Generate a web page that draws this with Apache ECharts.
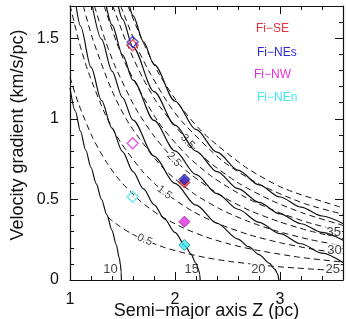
<!DOCTYPE html>
<html>
<head>
<meta charset="utf-8">
<script src="https://cdn.jsdelivr.net/npm/echarts@6/dist/echarts.min.js"></script>
<style>
html, body { margin: 0; padding: 0; background: #fff; }
#chart { width: 346px; height: 319px; }
</style>
</head>
<body>
<div id="chart"></div>
<script>
// solid curves, labelled 10 ... 35  [Z (pc), gradient (km/s/pc)]
const solid10 = [[1.0,1.192],[1.05,1.050],[1.1,0.922],[1.15,0.805],[1.2,0.698],[1.25,0.597],[1.3,0.501],[1.35,0.406],[1.4,0.308],[1.44,0.220],[1.47,0.135],[1.48,0.095],[1.487,0.051],[1.49,0]];
const solid15 = [[1.058,1.7],[1.1,1.576],[1.2,1.321],[1.3,1.114],[1.4,0.942],[1.5,0.797],[1.6,0.673],[1.7,0.565],[1.8,0.468],[1.9,0.379],[2.0,0.295],[2.1,0.209],[2.15,0.162],[2.2,0.104],[2.225,0.063],[2.235,0.036],[2.24,0]];
const solid20 = [[1.213,1.7],[1.3,1.494],[1.4,1.296],[1.5,1.132],[1.6,0.992],[1.8,0.769],[2.0,0.599],[2.2,0.464],[2.4,0.352],[2.6,0.254],[2.7,0.207],[2.8,0.158],[2.9,0.103],[2.95,0.067],[2.975,0.041],[2.99,0]];
const solid25 = [[1.345,1.7],[1.4,1.583],[1.5,1.397],[1.6,1.240],[1.8,0.990],[2.0,0.801],[2.2,0.654],[2.4,0.536],[2.6,0.439],[2.8,0.358],[3.0,0.288],[3.2,0.225],[3.4,0.167],[3.6,0.108]];
const solid30 = [[1.459,1.7],[1.5,1.619],[1.6,1.445],[1.8,1.169],[2.0,0.961],[2.2,0.800],[2.4,0.672],[2.6,0.567],[2.8,0.481],[3.0,0.410],[3.2,0.349],[3.4,0.295],[3.6,0.247]];
const solid35 = [[1.567,1.7],[1.6,1.640],[1.7,1.478],[1.8,1.338],[2.0,1.110],[2.2,0.934],[2.4,0.793],[2.6,0.682],[2.8,0.590],[3.0,0.515],[3.2,0.452],[3.4,0.397],[3.6,0.350]];

// dashed curves, 0.5 ... 4.5
const dash05 = [[1.359,0.389],[1.478,0.331],[1.585,0.288],[1.693,0.253],[1.903,0.201],[2.113,0.164],[2.319,0.136],[2.525,0.115],[2.731,0.099],[2.936,0.085],[3.139,0.075],[3.343,0.066],[3.6,0.058]];
const dash10 = [[1.0,1.258],[1.080,1.096],[1.218,0.880],[1.35,0.728],[1.478,0.615],[1.665,0.492],[1.843,0.406],[2.076,0.324],[2.303,0.265],[2.525,0.222],[2.746,0.189],[3.176,0.142],[3.6,0.111]];
const dash15 = [[1.0,1.705],[1.088,1.474],[1.171,1.297],[1.330,1.036],[1.482,0.855],[1.696,0.670],[1.900,0.544],[2.161,0.429],[2.409,0.350],[2.710,0.280],[3.003,0.231],[3.289,0.194],[3.6,0.163]];
const dash20 = [[1.127,1.70],[1.218,1.491],[1.398,1.177],[1.567,0.965],[1.882,0.698],[2.173,0.539],[2.448,0.434],[2.712,0.360],[2.967,0.304],[3.278,0.252],[3.6,0.211]];
const dash25 = [[1.233,1.70],[1.335,1.489],[1.433,1.321],[1.621,1.070],[1.797,0.896],[1.963,0.768],[2.125,0.668],[2.431,0.526],[2.720,0.429],[2.995,0.361],[3.262,0.308],[3.6,0.256]];
const dash30 = [[1.325,1.70],[1.443,1.476],[1.546,1.318],[1.838,0.983],[2.107,0.777],[2.359,0.638],[2.677,0.511],[2.978,0.422],[3.267,0.357],[3.6,0.300]];
const dash35 = [[1.408,1.70],[1.542,1.466],[1.695,1.251],[1.858,1.073],[2.242,0.779],[2.591,0.607],[2.920,0.493],[3.228,0.413],[3.6,0.339]];
const dash40 = [[1.483,1.70],[1.641,1.441],[1.751,1.297],[1.926,1.105],[2.069,0.981],[2.458,0.736],[2.816,0.590],[3.234,0.474],[3.6,0.408]];
const dash45 = [[1.552,1.70],[1.680,1.499],[1.848,1.278],[2.070,1.061],[2.28,0.906],[2.673,0.700],[3.038,0.568],[3.547,0.458],[3.6,0.449]];

// curve labels
const solidLabels = [['10',1.386,0.066],['15',2.159,0.066],['20',2.794,0.066],['25',3.502,0.066],['30',3.518,0.186],['35',3.512,0.293]];
const dashLabels = [['0.5',1.711,0.249],['1.5',1.90,0.544],['2.5',1.99,0.748],['3.5',2.12,0.86]];

// filaments: [open marker, filled marker]
const fiNames = ['Fi\u2212SE','Fi\u2212NEs','Fi\u2212NW','Fi\u2212NEn'];
const fiSE  = [[1.597,1.457],[2.09,0.605]];
const fiNEs = [[1.597,1.477],[2.09,0.624]];
const fiNW  = [[1.597,0.849],[2.09,0.362]];
const fiNEn = [[1.597,0.516],[2.09,0.217]];

const FONT = 'Liberation Sans, Arial, sans-serif';
const INK = '#111';
const fiColors = ['#e8303a','#2a2ad8','#e030e0','#40e8f0'];
const fiEdges = ['#a01818','#10106a','#901090','#108890'];
const dashAngles = [-22,-38,-46,-50];
const legendTops = [23,47,69,92];
const legendLefts = [256,257,254,257];

const chart = echarts.init(document.getElementById('chart'));

function axisX(pos, interval, len, main) {
  return {
    type: 'value', min: 1, max: 3.6, interval: interval, position: pos,
    axisLine: { show: main, onZero: false, lineStyle: { color: INK, width: 1.2 } },
    axisTick: { show: true, inside: true, length: len, lineStyle: { color: INK, width: 1 } },
    axisLabel: { show: false },
    splitLine: { show: false }
  };
}
function axisY(pos, interval, len, main) {
  return {
    type: 'value', min: 0, max: 1.7, interval: interval, position: pos,
    axisLine: { show: main, onZero: false, lineStyle: { color: INK, width: 1.2 } },
    axisTick: { show: true, inside: true, length: len, lineStyle: { color: INK, width: 1 } },
    axisLabel: { show: false },
    splitLine: { show: false }
  };
}

const xMain = axisX('bottom', 1, 8, true);
xMain.axisLabel = { show: true, fontSize: 16, color: INK, fontFamily: FONT, margin: 12, showMaxLabel: false };
xMain.name = 'Semi\u2212major axis Z (pc)';
xMain.nameLocation = 'middle';
xMain.nameGap = 22;
xMain.nameMoveOverlap = false;
xMain.nameTextStyle = { fontSize: 18, color: INK, fontFamily: FONT };

const yMain = axisY('left', 0.5, 8, true);
yMain.axisLabel = { show: true, fontSize: 16, color: INK, fontFamily: FONT, margin: 11, showMaxLabel: false };
yMain.name = 'Velocity gradient (km/s/pc)';
yMain.nameLocation = 'middle';
yMain.nameGap = 43;
yMain.nameMoveOverlap = false;
yMain.nameTextStyle = { fontSize: 18, color: INK, fontFamily: FONT, padding: [0, 0, 0, 16] };

const series = [];
[dash05, dash10, dash15, dash20, dash25, dash30, dash35, dash40, dash45].forEach(function (d) {
  series.push({
    type: 'line', data: d, showSymbol: false, smooth: 0.25, z: 2,
    lineStyle: { color: INK, width: 1, type: [6, 4] }, silent: true
  });
});
series.push({
  type: 'scatter', symbolSize: 0, z: 3, silent: true,
  data: dashLabels.map(function (d, i) {
    return { value: [d[1], d[2], d[0]], label: { rotate: dashAngles[i] } };
  }),
  label: {
    show: true, position: 'inside', formatter: function (p) { return p.value[2]; },
    fontSize: 11, color: INK, fontFamily: FONT, backgroundColor: '#fff', padding: [0, 1]
  }
});
series.push({
  type: 'scatter', symbolSize: 0, z: 3, silent: true,
  data: solidLabels.map(function (d) { return [d[1], d[2], d[0]]; }),
  label: {
    show: true, position: 'inside', formatter: function (p) { return p.value[2]; },
    fontSize: 13, color: INK, fontFamily: FONT, backgroundColor: '#fff', padding: [0, 1]
  }
});
[solid10, solid15, solid20, solid25, solid30, solid35].forEach(function (d) {
  series.push({
    type: 'line', data: d, showSymbol: false, smooth: 0.3, smoothMonotone: 'x', z: 4,
    lineStyle: { color: INK, width: 1.2 }, silent: true
  });
});
[fiSE, fiNEs, fiNW, fiNEn].forEach(function (f, i) {
  series.push({
    type: 'scatter', symbol: 'diamond', symbolSize: 11, z: 6, data: [f[0]],
    itemStyle: { color: 'rgba(255,255,255,0)', borderColor: fiColors[i], borderWidth: 1.4 }
  });
});
[fiSE, fiNEs, fiNW, fiNEn].forEach(function (f, i) {
  series.push({
    type: 'scatter', symbol: 'diamond', symbolSize: 11, z: 6, data: [f[1]],
    itemStyle: { color: fiColors[i], borderColor: fiEdges[i], borderWidth: 1 }
  });
});

chart.setOption({
  animation: false,
  backgroundColor: '#fff',
  grid: { left: 70, top: 6, right: 3, bottom: 39, outerBoundsMode: 'none', containLabel: false },
  xAxis: [xMain, axisX('bottom', 0.2, 4, false), axisX('top', 1, 8, true), axisX('top', 0.2, 4, false)],
  yAxis: [yMain, axisY('left', 0.1, 4, false), axisY('right', 0.5, 8, true), axisY('right', 0.1, 4, false)],
  graphic: fiNames.map(function (n, i) {
    return {
      type: 'text', left: legendLefts[i], top: legendTops[i],
      style: { text: n, fill: fiColors[i], font: '12px ' + FONT }
    };
  }),
  series: series
});
</script>
</body>
</html>
